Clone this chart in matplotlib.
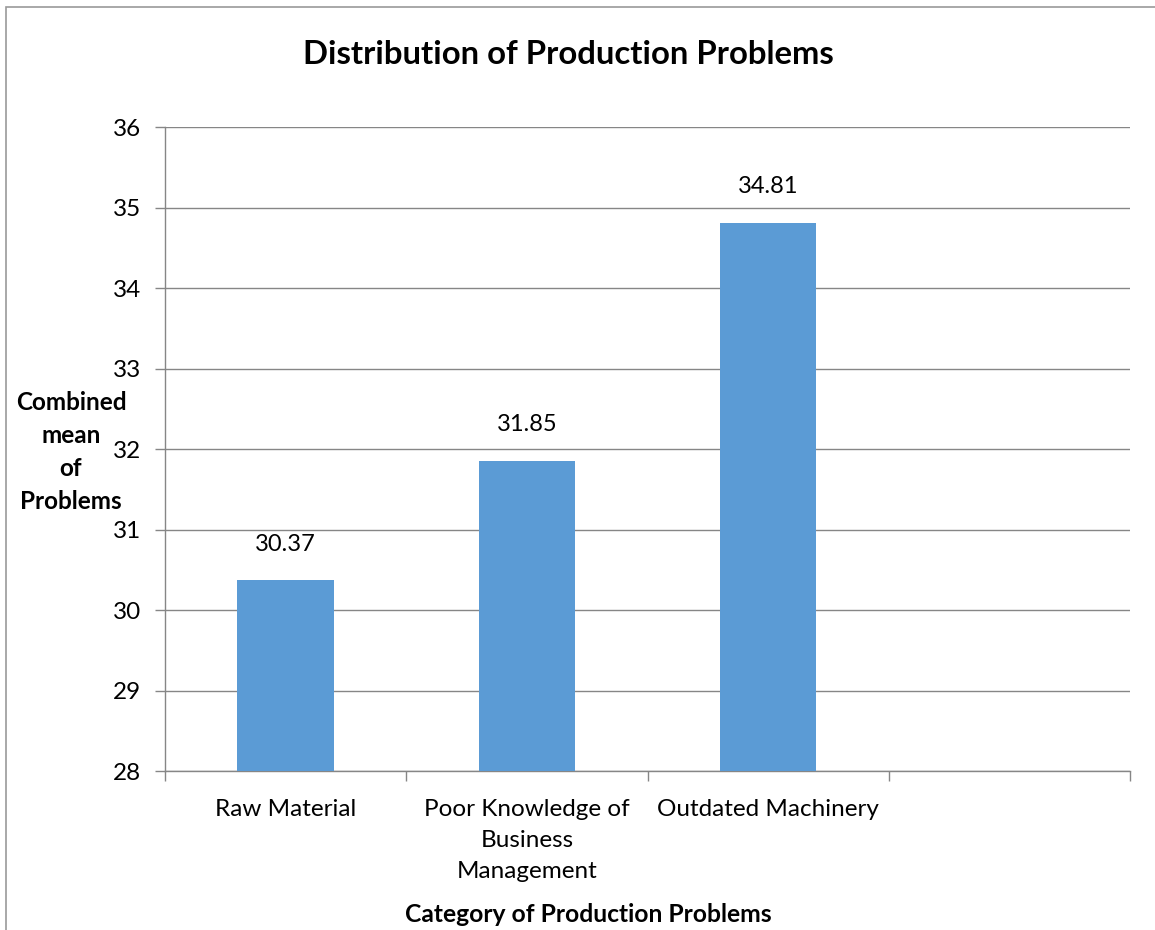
import matplotlib
matplotlib.use("Agg")
import matplotlib.pyplot as plt
from matplotlib.patches import Rectangle

categories = ["Raw Material", "Poor Knowledge of\nBusiness\nManagement", "Outdated Machinery", ""]
values = [30.37, 31.85, 34.81]
yticks = [28, 29, 30, 31, 32, 33, 34, 35, 36]
ylabel_lines = ["Combined", "mean", "of", "Problems"]

plt.rcParams['font.family'] = ['Lato', 'DejaVu Sans']

W, H = 1155, 930
fig = plt.figure(figsize=(W / 100, H / 100), dpi=100)
ax = fig.add_axes([165 / W, 1 - 771 / H, (1130 - 165) / W, (771 - 127) / H])

grid_c = '#868686'
bar_c = '#5B9BD5'

xs = list(range(len(values)))
ax.bar(xs, [v - 28 for v in values], bottom=28, width=0.4, color=bar_c, zorder=3)

ax.set_xlim(-0.5, len(categories) - 0.5)
ax.set_ylim(28, 36)
ax.set_yticks(yticks)
ax.set_yticklabels([str(t) for t in yticks], fontsize=17.5)
ax.yaxis.grid(True, color=grid_c, linewidth=1.0, zorder=0)
ax.set_axisbelow(True)

# category ticks at boundaries, labels at centers
ax.set_xticks([i - 0.5 for i in range(len(categories) + 1)])
ax.set_xticklabels([])
ax.set_xticks(list(range(len(categories))), minor=True)
ax.set_xticklabels(categories, minor=True, fontsize=17.5, linespacing=1.6, va='top')
ax.tick_params(axis='x', which='minor', length=0, pad=20)
ax.tick_params(axis='x', which='major', length=7, color=grid_c, width=1)
ax.tick_params(axis='y', length=7, color=grid_c, width=1, pad=10)

for s in ['top', 'right']:
    ax.spines[s].set_visible(False)
for s in ['left', 'bottom']:
    ax.spines[s].set_color(grid_c)
    ax.spines[s].set_linewidth(1.0)

for x, v in zip(xs, values):
    ax.annotate(f"{v:.2f}", (x, v), xytext=(0, 26), textcoords='offset points',
                ha='center', va='center', fontsize=17)

fig.text(568 / W, 1 - 55 / H, "Distribution of Production Problems",
         ha='center', va='center', fontsize=23.7, fontweight='bold')
fig.text(588 / W, 1 - 914 / H, "Category of Production Problems",
         ha='center', va='center', fontsize=17.7, fontweight='bold')
for i, line in enumerate(ylabel_lines):
    fig.text(71 / W, 1 - (402 + 33 * i) / H, line,
             ha='center', va='center', fontsize=17.5, fontweight='bold')

fig.patches.append(Rectangle((6 / W, -0.1), 1.2, 1 - 7 / H + 0.1, transform=fig.transFigure,
                             fill=False, edgecolor='#9a9a9a', linewidth=1.2))

fig.savefig("out.png", dpi=100)
